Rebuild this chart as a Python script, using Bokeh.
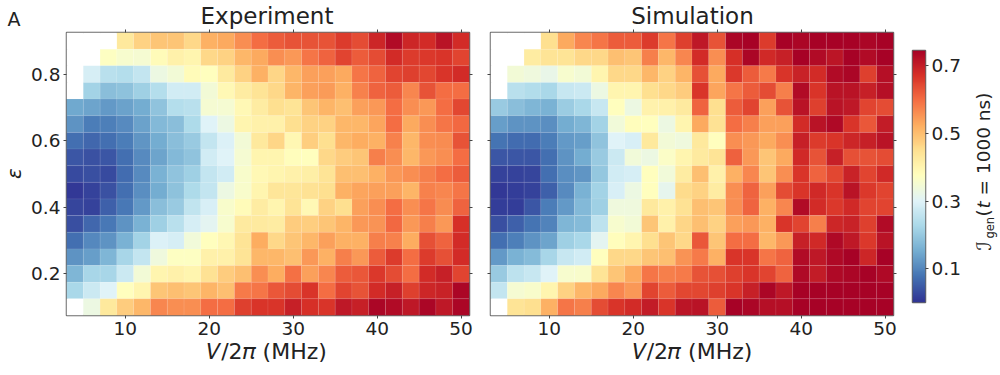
import numpy as np
from bokeh.embed import file_html
from bokeh.resources import INLINE
from bokeh.layouts import column, row
from bokeh.models import (ColumnDataSource, CustomJSTickFormatter, FixedTicker, Label, LinearAxis,
                          LinearColorMapper, Range1d)
from bokeh.palettes import RdYlBu11
from bokeh.plotting import figure

nan = float("nan")

V_centers = [4, 6, 8, 10, 12, 14, 16, 18, 20, 22, 24, 26, 28, 30, 32, 34, 36, 38, 40, 42, 44, 46, 48, 50]
eps_centers = [0.90, 0.85, 0.80, 0.75, 0.70, 0.65, 0.60, 0.55, 0.50, 0.45, 0.40, 0.35, 0.30, 0.25, 0.20, 0.15, 0.10]
x_ticks = [10, 20, 30, 40, 50]
y_ticks = [0.2, 0.4, 0.6, 0.8]
cbar_ticks = [0.1, 0.3, 0.5, 0.7]

experiment = [
 [nan,nan,nan,.43,.47,.49,.49,.46,.52,.53,.56,.60,.62,.63,.63,.63,.66,.64,.69,.73,.69,.68,.72,.68],
 [nan,nan,.37,.355,.35,.385,.41,.40,.46,.47,.51,.53,.56,.55,.59,.61,.65,.62,.64,.68,.66,.665,.67,.65],
 [nan,.285,.245,.24,.26,.33,.345,.385,.375,.425,.47,.52,.465,.51,.54,.54,.53,.59,.61,.65,.655,.645,.67,.68],
 [nan,.215,.18,.185,.21,.24,.28,.28,.345,.39,.42,.44,.46,.515,.54,.545,.52,.575,.61,.62,.57,.63,.60,.60],
 [.145,.14,.125,.135,.15,.19,.24,.245,.35,.35,.39,.42,.45,.44,.49,.515,.50,.54,.55,.60,.56,.55,.60,.645],
 [.115,.085,.09,.105,.135,.17,.18,.23,.30,.33,.40,.41,.41,.45,.47,.47,.51,.51,.535,.60,.53,.56,.59,.605],
 [.07,.06,.07,.085,.12,.15,.18,.20,.26,.295,.345,.43,.465,.395,.475,.45,.51,.525,.52,.575,.51,.56,.565,.63],
 [.04,.035,.04,.07,.105,.14,.17,.19,.28,.30,.35,.40,.40,.38,.375,.46,.48,.49,.58,.56,.51,.55,.56,.60],
 [.025,.03,.025,.065,.105,.16,.19,.21,.26,.28,.36,.39,.40,.41,.415,.44,.50,.50,.52,.55,.56,.58,.60,.62],
 [.005,.015,.035,.07,.11,.15,.185,.23,.26,.33,.36,.40,.435,.435,.445,.45,.52,.535,.54,.54,.515,.575,.57,.59],
 [.02,.015,.05,.08,.125,.18,.20,.255,.29,.36,.385,.42,.40,.44,.39,.47,.45,.54,.56,.60,.56,.59,.565,.61],
 [.03,.06,.08,.115,.16,.21,.245,.285,.31,.355,.425,.425,.42,.48,.475,.49,.515,.55,.555,.605,.55,.58,.55,.675],
 [.07,.10,.115,.16,.215,.295,.285,.34,.375,.395,.44,.525,.46,.49,.51,.54,.52,.52,.58,.575,.525,.635,.61,.68],
 [.115,.13,.165,.22,.26,.335,.37,.37,.41,.41,.44,.51,.51,.50,.55,.52,.58,.55,.62,.66,.60,.66,.635,.68],
 [.165,.22,.22,.27,.345,.40,.41,.40,.445,.48,.50,.56,.525,.595,.54,.57,.62,.625,.665,.64,.60,.68,.70,.65],
 [.225,.27,.30,.375,.40,.49,.50,.49,.515,.50,.585,.59,.625,.64,.67,.60,.65,.63,.68,.70,.655,.69,.695,.74],
 [nan,.33,.43,.48,.51,.57,.56,.56,.60,.60,.655,.67,.67,.70,.675,.67,.71,.70,.74,.73,.71,.74,.71,.74],
]

simulation = [
 [nan,nan,nan,.45,.53,.57,.59,.62,.62,.66,.59,.655,.71,.63,.74,.745,.66,.745,.74,.745,.745,.745,.74,.745],
 [nan,nan,.42,.44,.44,.46,.46,.50,.49,.58,.51,.57,.68,.56,.675,.74,.685,.70,.745,.73,.715,.745,.73,.745],
 [nan,.345,.335,.32,.355,.345,.40,.46,.46,.51,.47,.515,.635,.53,.665,.62,.585,.67,.695,.68,.73,.74,.655,.725],
 [nan,.245,.235,.225,.265,.27,.33,.40,.40,.45,.46,.48,.67,.535,.59,.62,.64,.58,.73,.67,.72,.72,.70,.725],
 [.20,.18,.165,.16,.205,.225,.265,.375,.33,.405,.41,.425,.61,.45,.62,.65,.54,.63,.72,.655,.72,.71,.65,.64],
 [.13,.115,.115,.11,.15,.165,.215,.34,.38,.375,.33,.40,.53,.445,.60,.58,.54,.54,.68,.72,.735,.67,.625,.705],
 [.075,.065,.065,.085,.125,.13,.19,.30,.29,.43,.345,.335,.43,.375,.56,.55,.53,.56,.70,.66,.67,.69,.70,.72],
 [.04,.04,.04,.07,.115,.15,.20,.27,.34,.33,.365,.40,.425,.44,.615,.55,.49,.53,.685,.63,.70,.635,.63,.64],
 [.015,.015,.02,.07,.11,.12,.195,.28,.285,.375,.34,.42,.50,.41,.52,.57,.49,.56,.67,.61,.645,.695,.65,.685],
 [.005,.01,.015,.05,.105,.16,.215,.29,.33,.375,.315,.455,.47,.42,.56,.61,.54,.64,.67,.685,.67,.72,.665,.65],
 [.01,.01,.04,.085,.125,.17,.21,.335,.335,.43,.41,.445,.50,.49,.56,.61,.52,.57,.73,.68,.665,.685,.65,.65],
 [.03,.05,.075,.095,.165,.175,.25,.355,.345,.49,.41,.465,.50,.47,.54,.55,.52,.67,.65,.58,.69,.695,.655,.73],
 [.07,.09,.115,.14,.21,.225,.31,.38,.40,.45,.49,.46,.625,.49,.60,.60,.51,.55,.70,.685,.735,.71,.665,.72],
 [.125,.16,.175,.22,.265,.28,.375,.46,.46,.49,.50,.555,.585,.52,.67,.67,.59,.61,.73,.71,.735,.745,.69,.745],
 [.20,.25,.265,.30,.355,.36,.44,.49,.53,.59,.58,.585,.63,.635,.655,.67,.65,.61,.735,.705,.735,.74,.745,.735],
 [.26,.35,.36,.40,.47,.51,.53,.57,.55,.65,.62,.645,.645,.655,.67,.70,.74,.71,.745,.745,.745,.745,.745,.745],
 [nan,.44,.45,.52,.59,.58,.64,.67,.68,.705,.67,.715,.72,.62,.745,.74,.725,.725,.745,.745,.745,.745,.745,.745],
]

rgb = np.array([[int(c[i:i+2], 16) for i in (1, 3, 5)] for c in RdYlBu11], float)
pos = np.linspace(0, 1, 11)
fine = np.linspace(0, 1, 256)
palette = ["#%02x%02x%02x" % tuple(int(round(np.interp(t, pos, rgb[:, k]))) for k in range(3)) for t in fine]
mapper = LinearColorMapper(palette=palette, low=0, high=0.75, nan_color="white")

FONT = "DejaVu Sans"
TEXT = "#222222"
BLANK = CustomJSTickFormatter(code="return ''")
ROW_H = 314


def style_tick_axis(ax, labels=True):
    ax.minor_tick_line_color = None
    ax.axis_line_color = None
    ax.major_tick_in = 0
    ax.major_tick_out = 3
    ax.major_tick_line_color = "#444444"
    ax.major_label_text_font = FONT
    ax.major_label_text_font_size = "18.5px"
    ax.major_label_text_color = TEXT
    ax.major_label_standoff = 3
    if not labels:
        ax.formatter = BLANK
        ax.major_label_standoff = 0


def text_label(fig, x, y, text, size, align="left", angle=0.0, style="normal"):
    fig.add_layout(Label(x=x, y=y, x_units="screen", y_units="screen", text=text, angle=angle,
                         text_font=FONT, text_font_size=size, text_font_style=style,
                         text_color=TEXT, text_align=align, text_baseline="alphabetic"))


def strip(w, h, **kw):
    s = figure(width=w, height=h, frame_width=w, frame_height=h,
               x_range=Range1d(0, 1), y_range=Range1d(0, 1),
               x_axis_location=None, y_axis_location=None,
               toolbar_location=None, output_backend="svg", frame_align=False,
               min_border=0, background_fill_color=None, border_fill_color=None, **kw)
    s.grid.visible = False
    s.outline_line_color = None
    return s


def panel(values, left, right, show_ylabels):
    xs, ys, vals = [], [], []
    for yi, y in enumerate(eps_centers):
        for xi, x in enumerate(V_centers):
            xs.append(x)
            ys.append(y)
            vals.append(values[yi][xi])
    src = ColumnDataSource(dict(x=xs, y=ys, v=np.array(vals, float)))
    p = figure(frame_width=403, frame_height=283, width=left + 403 + right, height=ROW_H,
               x_range=Range1d(3, 51), y_range=Range1d(0.075, 0.925),
               toolbar_location=None, output_backend="svg", frame_align=False,
               min_border_left=left, min_border_right=right, min_border_top=3, min_border_bottom=28)
    p.rect("x", "y", width=2, height=0.05, source=src,
           fill_color={"field": "v", "transform": mapper},
           line_color="white", line_alpha=0.07, line_width=1)
    p.grid.visible = False
    p.outline_line_color = "#666666"
    p.outline_line_width = 1.5
    p.background_fill_color = "white"

    p.xaxis.ticker = FixedTicker(ticks=x_ticks)
    p.yaxis.ticker = FixedTicker(ticks=y_ticks)
    style_tick_axis(p.xaxis[0])
    style_tick_axis(p.yaxis[0], labels=show_ylabels)

    top = LinearAxis(ticker=FixedTicker(ticks=x_ticks))
    rgt = LinearAxis(ticker=FixedTicker(ticks=y_ticks))
    style_tick_axis(top, labels=False)
    style_tick_axis(rgt, labels=False)
    p.add_layout(top, "above")
    p.add_layout(rgt, "right")
    return p


top_strip = strip(1000, 29)
text_label(top_strip, 7, 11, "A", "19px")
text_label(top_strip, 266.5, 14, "Experiment", "23px", align="center")
text_label(top_strip, 692, 14, "Simulation", "23px", align="center")

bottom_strip = strip(1000, 37, margin=(-8, 0, 0, 0))
text_label(bottom_strip, 266.5, 21, "𝑉/2𝜋 (MHz)", "22px", align="center")
text_label(bottom_strip, 692, 21, "𝑉/2𝜋 (MHz)", "22px", align="center")

eps_strip = strip(24, ROW_H)
text_label(eps_strip, 13, 170, "ε", "20px", align="center", angle=np.pi / 2, style="italic")

p1 = panel(experiment, 42, 11, True)
p2 = panel(simulation, 10, 8, False)

cb_vals = np.linspace(0, 0.745, 256).reshape(-1, 1)
cb = figure(frame_width=13, frame_height=252, width=64, height=ROW_H,
            x_range=Range1d(0, 1), y_range=Range1d(0, 0.745),
            toolbar_location=None, output_backend="svg", frame_align=False,
            min_border_left=11, min_border_right=40, min_border_top=21, min_border_bottom=41,
            x_axis_location=None, y_axis_location="right")
cb.image(image=[cb_vals], x=0, y=0, dw=1, dh=0.745, color_mapper=mapper)
cb.grid.visible = False
cb.outline_line_color = "#666666"
cb.outline_line_width = 1.5
cb.yaxis.ticker = FixedTicker(ticks=cbar_ticks)
style_tick_axis(cb.yaxis[0])
cb.yaxis.major_label_standoff = 3

label_strip = strip(35, ROW_H)
ang = np.pi / 2
text_label(label_strip, 18, 93, "ℐ", "20px", angle=ang, style="italic")
text_label(label_strip, 24, 105, "gen", "11.5px", angle=ang)
text_label(label_strip, 18, 127, "(", "18.5px", angle=ang)
text_label(label_strip, 18, 135, "t", "18.5px", angle=ang, style="italic")
text_label(label_strip, 18, 148, "= 1000 ns)", "18.5px", angle=ang)

layout = column(top_strip, row(eps_strip, p1, p2, cb, label_strip, spacing=0), bottom_strip, spacing=0)
open("out.html", "w").write(file_html(layout, INLINE))
